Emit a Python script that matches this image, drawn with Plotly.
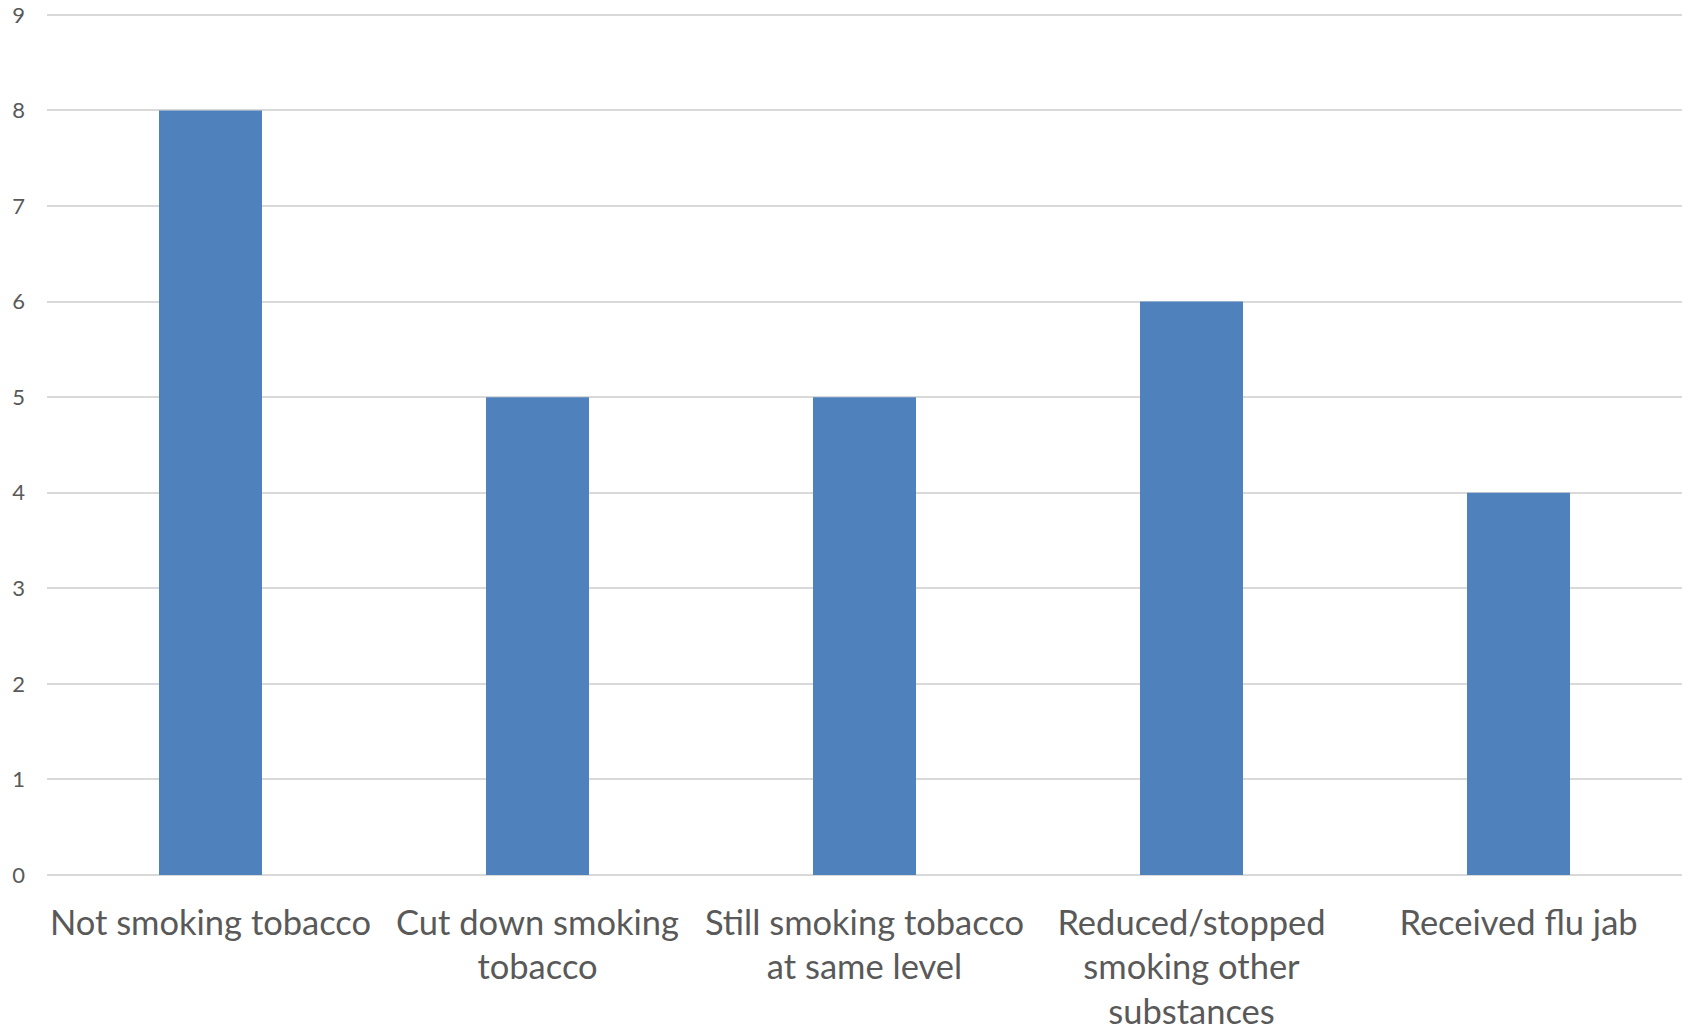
import plotly.graph_objects as go

categories = [
    "Not smoking tobacco",
    "Cut down smoking<br>tobacco",
    "Still smoking tobacco<br>at same level",
    "Reduced/stopped<br>smoking other<br>substances",
    "Received flu jab",
]
counts = [8, 5, 5, 6, 4]
y_ticks = list(range(0, 10))

TEXT_GREY = "#595959"

fig = go.Figure(
    go.Bar(
        x=categories,
        y=counts,
        marker=dict(color="#4f81bd", line=dict(width=0)),
        width=0.315,
        hoverinfo="x+y",
    )
)

fig.update_layout(
    width=1690,
    height=1032,
    margin=dict(l=47, r=8, t=12, b=157),
    paper_bgcolor="white",
    plot_bgcolor="white",
    showlegend=False,
    font=dict(family="Lato, 'Open Sans', sans-serif", color=TEXT_GREY),
)

fig.update_xaxes(
    showgrid=False,
    showline=False,
    ticks="",
    tickfont=dict(size=34.5, color=TEXT_GREY),
    ticklabelstandoff=24,
    automargin=False,
)

# small headroom above 9 so the top gridline is kept inside the plot area
fig.update_yaxes(
    range=[0, 9.03],
    tickvals=y_ticks,
    showgrid=True,
    gridcolor="#d9d9d9",
    gridwidth=1.5,
    zeroline=True,
    zerolinecolor="#d9d9d9",
    zerolinewidth=1.5,
    showline=False,
    ticks="",
    tickfont=dict(size=22, color=TEXT_GREY),
    ticklabelstandoff=21,
    automargin=False,
)

fig.write_html("out.html")
